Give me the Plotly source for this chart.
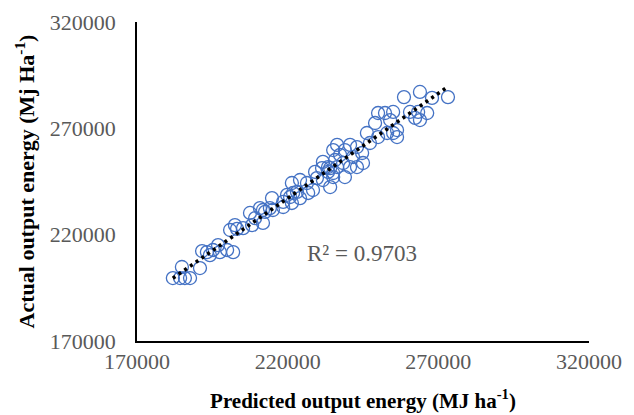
import numpy as np
import plotly.graph_objects as go

predicted = [181900, 184300, 185900, 187600, 184900, 190900, 191600, 193200, 195200, 197500,
             199900, 201900, 194200, 196900, 200900, 203200, 205200, 202500, 208200, 211800,
             209200, 212500, 214100, 215100, 211800, 207500, 210800, 214800, 218500, 218500,
             220800, 221400, 221800, 219800, 224100, 223100, 226800, 228400, 221400, 224100,
             226400, 229700, 229100, 231400, 233400, 235100, 235700, 235100, 236400, 231700,
             234100, 231700, 233400, 235100, 236400, 238400, 239000, 240700, 241700, 243000,
             244700, 247300, 246300, 249000, 250000, 252300, 254000, 255000, 253000, 250000,
             243000, 245000, 234100, 258600, 263900, 267900, 273200, 260600, 263300, 266300,
             262300, 263900, 255000, 256300, 256300, 239000, 240700, 237400]
actual = [199600, 199600, 199600, 199600, 204800, 204300, 212300, 211800, 212800, 211800,
          212800, 211800, 210400, 215100, 222200, 222700, 223100, 224500, 224500, 225500,
          227800, 230700, 232500, 231600, 231600, 230200, 232500, 237200, 235400, 233000,
          237700, 234900, 239600, 238700, 237200, 240100, 239600, 241000, 244300, 245700,
          244300, 246600, 249500, 251300, 251800, 249000, 255100, 259800, 262200, 254200,
          251300, 245700, 249500, 247100, 251800, 253700, 247100, 251800, 256500, 261200,
          258400, 263100, 267800, 272500, 277200, 277200, 273900, 267800, 267800, 265900,
          251800, 253700, 242400, 284700, 287100, 284300, 284700, 277700, 277700, 277200,
          274900, 273900, 277700, 269200, 265900, 259800, 262200, 257500]
tick_vals = [170000, 220000, 270000, 320000]
r2_label = "R² = 0.9703"

x = np.array(predicted, dtype=float)
y = np.array(actual, dtype=float)
slope, intercept = np.polyfit(x, y, 1)
tx = np.array([x.min(), x.max()])
ty = slope * tx + intercept

serif = "Liberation Serif, Times New Roman, serif"

fig = go.Figure()
fig.add_trace(go.Scatter(
    x=predicted, y=actual, mode="markers",
    marker=dict(symbol="circle-open", size=13, color="#4472C4", line=dict(width=1.3, color="#4472C4")),
    showlegend=False, hoverinfo="skip"))
fig.add_trace(go.Scatter(
    x=tx, y=ty, mode="lines",
    line=dict(color="black", width=3.5, dash="3px,4px"),
    showlegend=False, hoverinfo="skip"))

fig.add_annotation(x=244700, y=211200, xref="x", yref="y", text=r2_label, showarrow=False,
                   font=dict(family=serif, size=23, color="#595959"))

fig.update_layout(
    width=626, height=407,
    margin=dict(l=129, r=45, t=14, b=74, autoexpand=False),
    paper_bgcolor="white", plot_bgcolor="white",
    font=dict(family=serif, color="#595959"),
)
fig.update_xaxes(range=[170000, 320000], tickvals=tick_vals, ticktext=[str(v) for v in tick_vals],
                 showgrid=False, zeroline=False, showline=True, linecolor="black", linewidth=1.5,
                 ticks="", automargin=False, tickfont=dict(family=serif, size=22, color="#595959"),
                 title=dict(text="<b>Predicted output energy (MJ ha<sup>-1</sup>)</b>",
                            font=dict(family=serif, size=21, color="black"), standoff=20))
fig.update_yaxes(range=[170000, 320000], tickvals=tick_vals, ticktext=[str(v) for v in tick_vals],
                 showgrid=False, zeroline=False, showline=True, linecolor="black", linewidth=1.5,
                 ticks="", automargin=False, ticklabelstandoff=15,
                 tickfont=dict(family=serif, size=22, color="#595959"),
                 title=dict(text="<b>Actual output energy (Mj Ha<sup>-1</sup>)</b>",
                            font=dict(family=serif, size=22, color="black"), standoff=9))

fig.write_html("out.html")
